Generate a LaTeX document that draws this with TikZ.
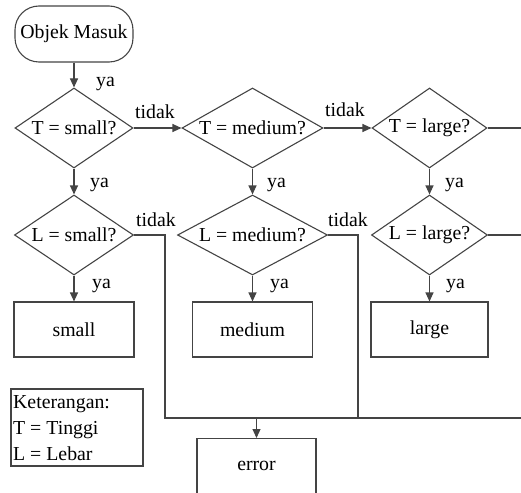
\documentclass[tikz,border=0pt]{standalone}
\usepackage{fontspec}
\IfFontExistsTF{LiberationSerif-Regular.ttf}
  {\setmainfont{LiberationSerif-Regular.ttf}[BoldFont=LiberationSerif-Bold.ttf]}
  {\setmainfont{Liberation Serif}}
\usetikzlibrary{shapes.geometric,arrows.meta}
\definecolor{ln}{HTML}{444444}
\begin{document}
\begin{tikzpicture}[x=1pt,y=-1pt,
  every node/.style={font=\rmfamily\fontsize{19.8}{24}\selectfont, text=black},
  dia/.style={diamond, draw=ln, line width=1.1pt, inner sep=0pt, minimum height=80pt},
  box/.style={rectangle, draw=ln, line width=1.1pt, minimum height=55pt},
  term/.style={rectangle, rounded corners=24pt, draw=ln, line width=1.1pt, minimum width=118pt, minimum height=56pt},
  flow/.style={draw=ln, line width=1.1pt, -{Triangle[length=9pt,width=8pt]}},
  wire/.style={draw=ln, line width=1.1pt},
  lab/.style={anchor=base west, inner sep=0pt}
]
\useasboundingbox (0,0) rectangle (521,492);
\clip (0,0) rectangle (521,492);

% start
\node[term] (start) at (74,34) {Objek Masuk};

% first row of decisions
\node[dia, minimum width=118pt] (d1) at (74,128) {};
\node (d1t) at (d1) {T = small?};
\node[dia, minimum width=141pt] (d2) at (252.5,128) {};
\node (d2t) at (d2) {T = medium?};
\node[dia, minimum width=115pt] (d3) at (429.5,128) {};
\node (d3t) at (d3) {T = large?};

% second row of decisions
\node[dia, minimum width=119pt] (e1) at (74,235) {};
\node (e1t) at (e1) {L = small?};
\node[dia, minimum width=150pt] (e2) at (252.5,235) {};
\node (e2t) at (e2) {L = medium?};
\node[dia, minimum width=116pt] (e3) at (429.5,235) {};
\node (e3t) at (e3) {L = large?};

% result boxes
\node[box, minimum width=120pt] (b1) at (74,329.5) {small};
\node[box, minimum width=120pt] (b2) at (252.5,329.5) {medium};
\node[box, minimum width=117pt] (b3) at (429.5,329.5) {large};
\node[box, minimum width=119pt, minimum height=58pt, anchor=north] (err) at (256.5,438) {};
\node (errt) at (256.5,465.5) {error};

% legend
\node[draw=ln, line width=1.1pt, minimum width=132pt, minimum height=77pt, inner sep=0pt] (leg) at (77,427.5) {};
\node[lab] (leg1) at (13,408) {Keterangan:};
\node[lab] (leg2) at (13,434) {T = Tinggi};
\node[lab] (leg3) at (13,460) {L = Lebar};

% coordinates
\coordinate (c3) at (521,128);
\coordinate (c4) at (521,235);
\coordinate (j1) at (165,418);
\coordinate (j2) at (358,418);
\coordinate (c5) at (521,418);
\coordinate (m) at (256.5,418);

% connectors
\draw[flow] (start.south) -- (d1.north);
\draw[flow] (d1.east) -- (d2.west);
\draw[flow] (d2.east) -- (d3.west);
\draw[wire] (d3.east) -- (c3);
\draw[flow] (d1.south) -- (e1.north);
\draw[flow] (d2.south) -- (e2.north);
\draw[flow] (d3.south) -- (e3.north);
\draw[wire] (e3.east) -- (c4);
\draw[flow] (e1.south) -- (b1.north);
\draw[flow] (e2.south) -- (b2.north);
\draw[flow] (e3.south) -- (b3.north);
\draw[wire] (e1.east) -| (j1) -- (c5);
\draw[wire] (e2.east) -| (j2);
\draw[flow] (m) -- (err.north);

% labels
\node[lab] (y0) at (96,87) {ya};
\node[lab] (y1) at (90,187) {ya};
\node[lab] (y2) at (267,187) {ya};
\node[lab] (y3) at (445,187) {ya};
\node[lab] (y4) at (92,288) {ya};
\node[lab] (y5) at (270,288) {ya};
\node[lab] (y6) at (446,288) {ya};
\node[lab] (t1) at (135,118) {tidak};
\node[lab] (t2) at (325,117) {tidak};
\node[lab] (t3) at (136,226) {tidak};
\node[lab] (t4) at (328,226) {tidak};
\end{tikzpicture}
\end{document}
